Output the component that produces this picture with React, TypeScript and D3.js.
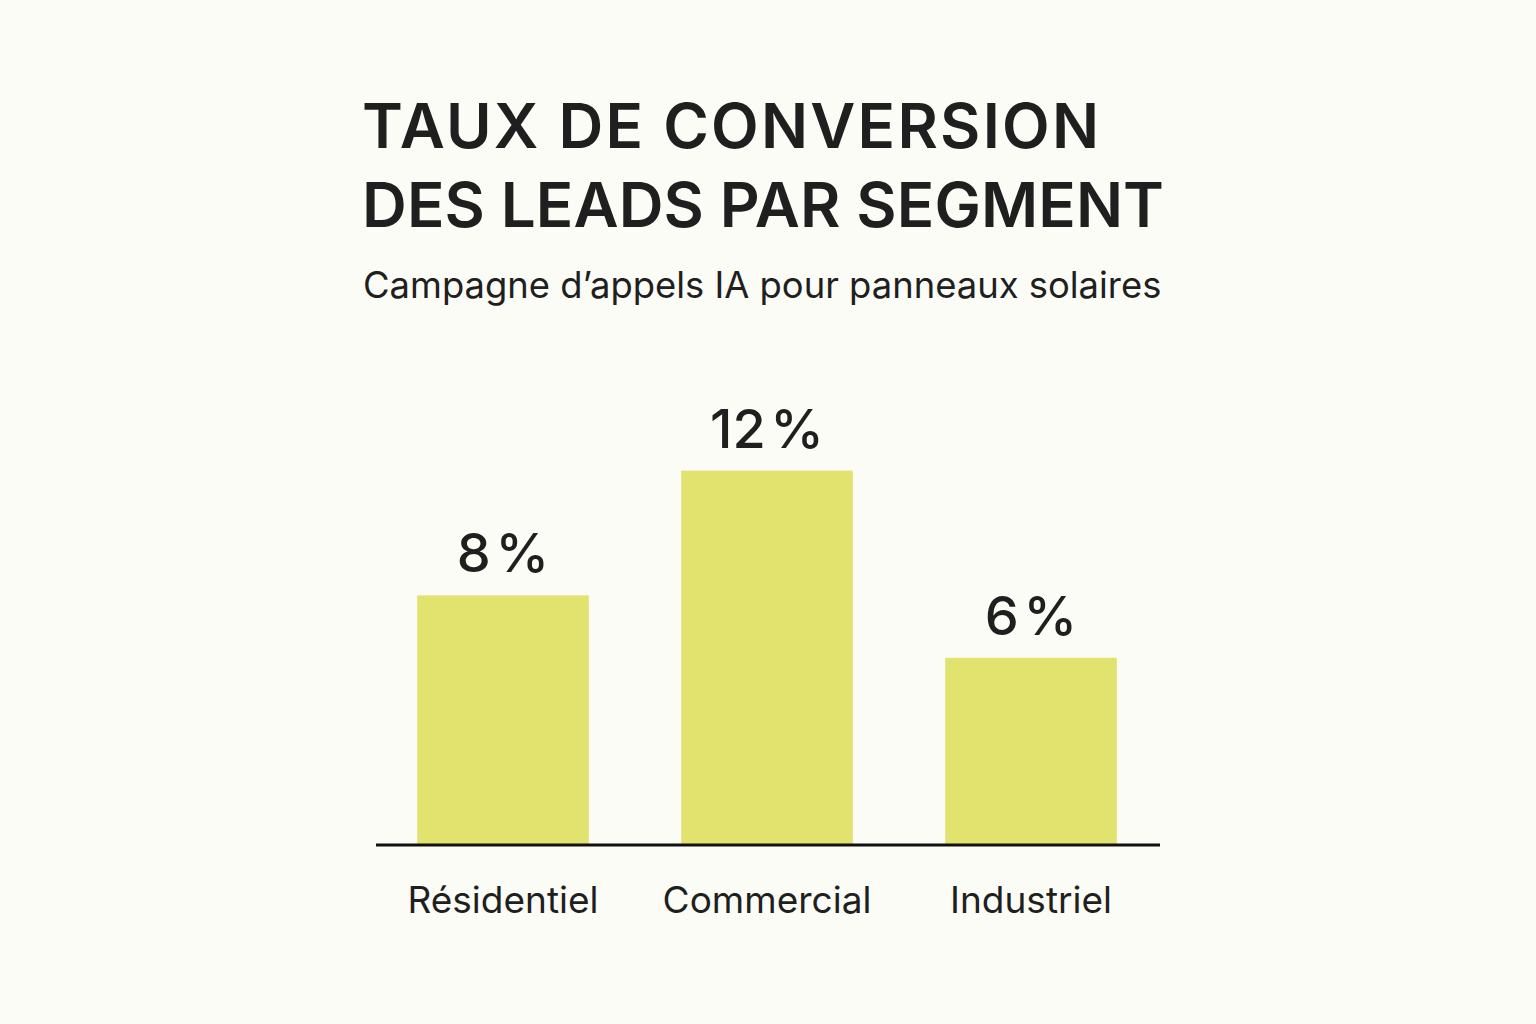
import React from "react";
import * as d3 from "d3";

const categories = ["Résidentiel", "Commercial", "Industriel"];
const values = [8, 12, 6];
const titleLines = ["TAUX DE CONVERSION", "DES LEADS PAR SEGMENT"];
const subtitle = "Campagne d’appels IA pour panneaux solaires";

const W = 1536;
const H = 1024;
const FONT = "Inter, 'Noto Sans', sans-serif";
const TITLE_WIDTHS = [737, 802];

export default function App() {
  const baseline = 845;
  const x = d3
    .scaleBand<string>()
    .domain(categories)
    .range([371, 1163])
    .paddingInner(0.35)
    .paddingOuter(0.175);
  const y = d3.scaleLinear().domain([0, 14]).range([baseline, baseline - 14 * 31.2]);

  return (
    <div style={{ position: "fixed", inset: 0, background: "#fcfcf7" }}>
      <svg width={W} height={H} style={{ display: "block" }}>
        <rect x={0} y={0} width={W} height={H} fill="#fcfcf7" />
        {titleLines.map((t, i) => (
          <text
            key={t}
            x={362}
            y={148 + i * 79}
            fontFamily={FONT}
            fontWeight={600}
            fontSize={62}
            textLength={TITLE_WIDTHS[i]}
            lengthAdjust="spacing"
            fill="#1f1f1f"
          >
            {t}
          </text>
        ))}
        <text x={363} y={298} fontFamily={FONT} fontSize={36.4} fill="#1f1f1f">
          {subtitle}
        </text>
        {categories.map((c, i) => {
          const v = values[i];
          const bx = x(c)!;
          const cx = bx + x.bandwidth() / 2;
          return (
            <g key={c}>
              <rect
                x={bx}
                y={y(v)}
                width={x.bandwidth()}
                height={baseline - y(v)}
                fill="#e2e26e"
              />
              <text
                x={cx}
                y={y(v) - 23}
                textAnchor="middle"
                fontFamily={FONT}
                fontWeight={500}
                fontSize={54}
                fill="#1f1f1f"
              >
                {`${v}\u200A%`}
              </text>
              <text
                x={cx}
                y={913}
                textAnchor="middle"
                fontFamily={FONT}
                fontSize={37}
                fill="#1f1f1f"
              >
                {c}
              </text>
            </g>
          );
        })}
        <line x1={376} x2={1160} y1={baseline} y2={baseline} stroke="#111" strokeWidth={3} />
      </svg>
    </div>
  );
}
